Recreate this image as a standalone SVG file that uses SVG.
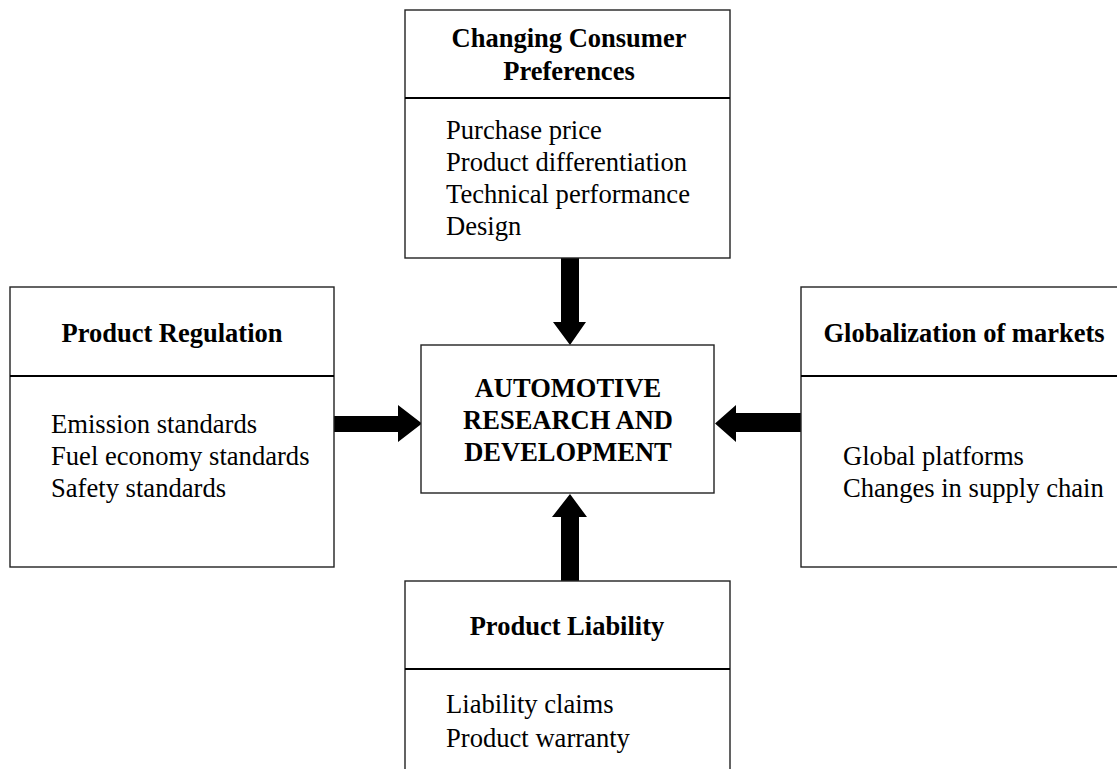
<svg xmlns="http://www.w3.org/2000/svg" width="1117" height="769" viewBox="0 0 1117 769">
  <style>
    .box { fill: #ffffff; stroke: #222222; stroke-width: 1.4; }
    .div { stroke: #000000; stroke-width: 2; }
    .title { font-family: "Liberation Serif", "Times New Roman", serif; font-size: 26.5px; font-weight: bold; fill: #000; text-anchor: middle; }
    .item { font-family: "Liberation Serif", "Times New Roman", serif; font-size: 26.6px; fill: #000; }
    .arrow { fill: #000000; }
  </style>
  <rect width="1117" height="769" fill="#ffffff"/>

  <!-- connectors: block arrows pointing into the centre box -->
  <g id="connectors">
    <polygon class="arrow" points="561,258 579,258 579,322 586,322 570,345 553,322 561,322"/>
    <polygon class="arrow" points="561,581 579,581 579,517 587,517 570,494 552,517 561,517"/>
    <polygon class="arrow" points="334,416 398,416 398,405 422,423.5 398,442 398,432 334,432"/>
    <polygon class="arrow" points="801,413 736,413 736,405 715,423.5 736,442 736,432 801,432"/>
  </g>

  <g id="center">
    <rect class="box" x="421" y="345" width="293" height="148"/>
    <text class="title" x="568" y="397">AUTOMOTIVE</text>
    <text class="title" x="568" y="429">RESEARCH AND</text>
    <text class="title" x="568" y="461">DEVELOPMENT</text>
  </g>

  <g id="consumer-preferences">
    <rect class="box" x="405" y="10" width="325" height="248"/>
    <line class="div" x1="405" y1="98" x2="730" y2="98"/>
    <text class="title" x="569" y="47">Changing Consumer</text>
    <text class="title" x="569" y="80">Preferences</text>
    <text class="item" x="446" y="139">Purchase price</text>
    <text class="item" x="446" y="171">Product differentiation</text>
    <text class="item" x="446" y="203">Technical performance</text>
    <text class="item" x="446" y="235">Design</text>
  </g>

  <g id="product-regulation">
    <rect class="box" x="10" y="287" width="324" height="280"/>
    <line class="div" x1="10" y1="376" x2="334" y2="376"/>
    <text class="title" x="172" y="342">Product Regulation</text>
    <text class="item" x="51" y="433">Emission standards</text>
    <text class="item" x="51" y="465">Fuel economy standards</text>
    <text class="item" x="51" y="497">Safety standards</text>
  </g>

  <g id="globalization">
    <rect class="box" x="801" y="287" width="340" height="280"/>
    <line class="div" x1="801" y1="376" x2="1117" y2="376"/>
    <text class="title" x="964" y="342">Globalization of markets</text>
    <text class="item" x="843" y="465">Global platforms</text>
    <text class="item" x="843" y="497">Changes in supply chain</text>
  </g>

  <g id="product-liability">
    <rect class="box" x="405" y="581" width="325" height="220"/>
    <line class="div" x1="405" y1="669" x2="730" y2="669"/>
    <text class="title" x="567" y="635">Product Liability</text>
    <text class="item" x="446" y="713">Liability claims</text>
    <text class="item" x="446" y="747">Product warranty</text>
  </g>
</svg>
